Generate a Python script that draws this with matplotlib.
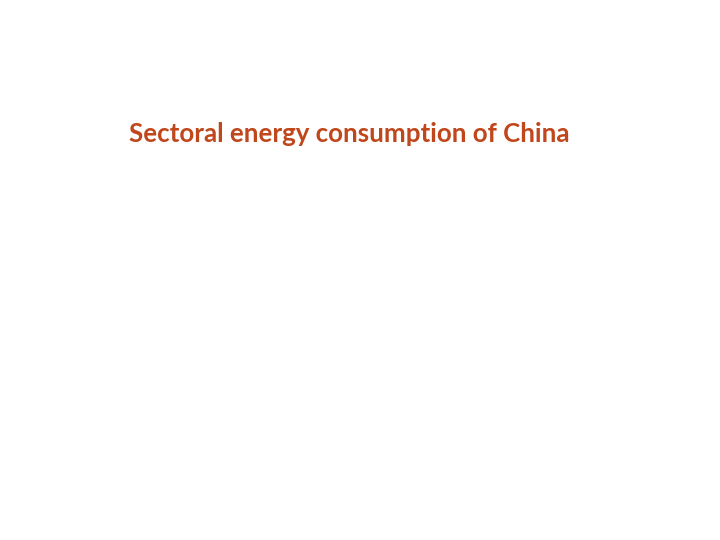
import matplotlib
matplotlib.use("Agg")
from matplotlib import pyplot as plt

title = "Sectoral energy consumption of China"
title_color = "#C0461B"

fig = plt.figure(figsize=(7.2, 5.4), dpi=100)
fig.patch.set_facecolor("white")
fig.text(129 / 720, 1 - 142 / 540, title, color=title_color,
         fontsize=18.6, fontweight="bold", family=["Lato", "DejaVu Sans"],
         ha="left", va="baseline")
fig.savefig("out.png", dpi=100)
